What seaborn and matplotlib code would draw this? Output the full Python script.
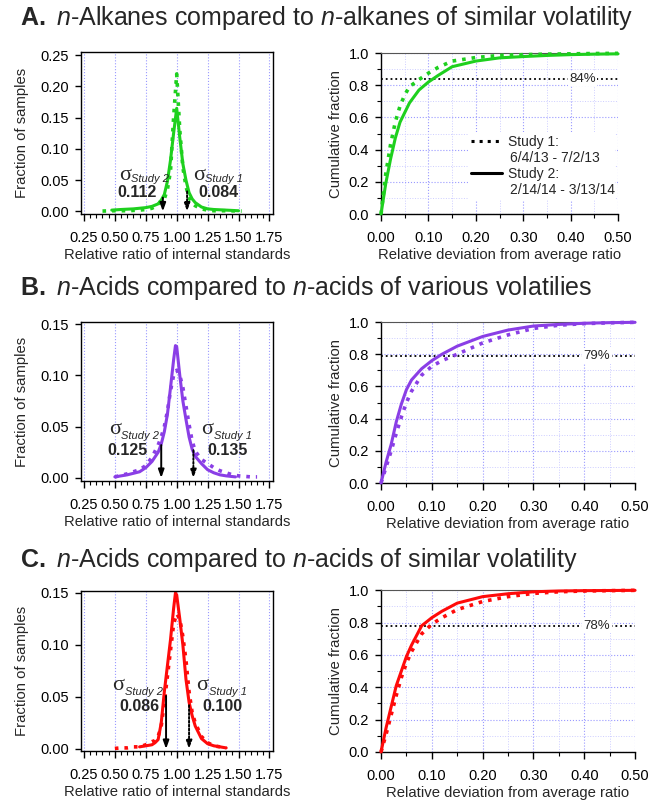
import matplotlib
matplotlib.use("Agg")
import matplotlib.pyplot as plt
from matplotlib.lines import Line2D
from matplotlib.ticker import MultipleLocator, FormatStrFormatter
import seaborn as sns

# ---- values ----
# left column: distribution of relative ratios (fraction of samples)
a_hist_x1 = [0.40, 0.50, 0.60, 0.70, 0.75, 0.80, 0.85, 0.875, 0.90, 0.925, 0.95, 0.975, 1.00, 1.025,
             1.05, 1.075, 1.10, 1.125, 1.15, 1.20, 1.25, 1.30, 1.40, 1.525]
a_hist_y1 = [0.0005, 0.001, 0.001, 0.002, 0.003, 0.005, 0.010, 0.018, 0.020, 0.035, 0.065, 0.150, 0.220,
             0.130, 0.070, 0.040, 0.022, 0.013, 0.009, 0.004, 0.002, 0.001, 0.001, 0.0005]
a_hist_x2 = [0.475, 0.55, 0.65, 0.75, 0.80, 0.85, 0.875, 0.90, 0.925, 0.95, 0.975, 1.00, 1.025, 1.05,
             1.075, 1.10, 1.125, 1.15, 1.20, 1.25, 1.30, 1.40, 1.50]
a_hist_y2 = [0.002, 0.003, 0.004, 0.006, 0.008, 0.012, 0.018, 0.027, 0.048, 0.082, 0.125, 0.165, 0.118,
             0.076, 0.050, 0.030, 0.020, 0.014, 0.007, 0.004, 0.003, 0.002, 0.001]

b_hist_x1 = [0.50, 0.60, 0.70, 0.75, 0.80, 0.85, 0.875, 0.90, 0.925, 0.95, 0.975, 1.00, 1.025, 1.05,
             1.075, 1.10, 1.125, 1.15, 1.20, 1.25, 1.30, 1.35, 1.40, 1.45, 1.50, 1.60, 1.65]
b_hist_y1 = [0.001, 0.004, 0.008, 0.012, 0.020, 0.032, 0.040, 0.050, 0.065, 0.085, 0.100, 0.105, 0.100,
             0.088, 0.070, 0.052, 0.036, 0.026, 0.018, 0.014, 0.010, 0.007, 0.005, 0.003, 0.002, 0.001, 0.001]
b_hist_x2 = [0.50, 0.60, 0.70, 0.75, 0.80, 0.85, 0.875, 0.90, 0.925, 0.95, 0.975, 0.99, 1.00, 1.025,
             1.05, 1.075, 1.10, 1.125, 1.15, 1.20, 1.25, 1.30, 1.35, 1.40, 1.475]
b_hist_y2 = [0.001, 0.003, 0.006, 0.010, 0.016, 0.025, 0.033, 0.045, 0.062, 0.088, 0.115, 0.129, 0.128,
             0.100, 0.075, 0.057, 0.040, 0.028, 0.021, 0.014, 0.008, 0.005, 0.003, 0.002, 0.001]

c_hist_x1 = [0.50, 0.55, 0.60, 0.65, 0.70, 0.75, 0.80, 0.825, 0.85, 0.875, 0.90, 0.925, 0.95, 0.975,
             1.00, 1.025, 1.05, 1.075, 1.10, 1.125, 1.15, 1.20, 1.25, 1.30, 1.35, 1.40]
c_hist_y1 = [0.0005, 0.001, 0.001, 0.002, 0.002, 0.004, 0.007, 0.008, 0.012, 0.022, 0.045, 0.070, 0.095,
             0.120, 0.130, 0.125, 0.108, 0.085, 0.055, 0.035, 0.025, 0.012, 0.006, 0.003, 0.002, 0.001]
c_hist_x2 = [0.70, 0.75, 0.80, 0.825, 0.85, 0.875, 0.90, 0.925, 0.95, 0.975, 0.99, 1.00, 1.025, 1.05,
             1.075, 1.10, 1.125, 1.15, 1.20, 1.25, 1.30, 1.35, 1.40]
c_hist_y2 = [0.002, 0.003, 0.004, 0.006, 0.009, 0.025, 0.055, 0.080, 0.105, 0.135, 0.150, 0.148, 0.125,
             0.100, 0.067, 0.045, 0.032, 0.022, 0.010, 0.005, 0.003, 0.002, 0.001]

# sigma of each study (study 1, study 2) and height where the arrows start
a_sigma = [0.084, 0.112]
b_sigma = [0.135, 0.125]
c_sigma = [0.100, 0.086]
a_arrow_top = [0.032, 0.022]
b_arrow_top = [0.027, 0.032]
c_arrow_top = [0.042, 0.051]

# right column: cumulative fraction vs relative deviation
cdf_x = [0, 0.01, 0.02, 0.03, 0.04, 0.05, 0.06, 0.08, 0.10, 0.12, 0.15, 0.20, 0.25, 0.30, 0.35, 0.40, 0.45, 0.50]
a_cdf1 = [0, 0.25, 0.43, 0.57, 0.67, 0.74, 0.79, 0.835, 0.875, 0.91, 0.95, 0.972, 0.985, 0.99, 0.993, 0.995, 0.997, 0.998]
a_cdf2 = [0, 0.19, 0.34, 0.47, 0.57, 0.63, 0.69, 0.77, 0.82, 0.86, 0.915, 0.95, 0.97, 0.978, 0.985, 0.99, 0.993, 0.995]
b_cdf1 = [0, 0.10, 0.20, 0.31, 0.41, 0.50, 0.57, 0.67, 0.725, 0.76, 0.80, 0.87, 0.92, 0.96, 0.98, 0.99, 0.995, 0.998]
b_cdf2 = [0, 0.13, 0.24, 0.38, 0.49, 0.58, 0.64, 0.71, 0.76, 0.80, 0.85, 0.91, 0.95, 0.975, 0.985, 0.992, 0.996, 0.998]
c_cdf1 = [0, 0.11, 0.23, 0.35, 0.46, 0.55, 0.62, 0.73, 0.79, 0.83, 0.88, 0.93, 0.96, 0.98, 0.99, 0.995, 0.997, 0.999]
c_cdf2 = [0, 0.15, 0.28, 0.41, 0.50, 0.59, 0.66, 0.78, 0.83, 0.87, 0.92, 0.96, 0.978, 0.99, 0.995, 0.997, 0.998, 0.999]

# fraction within one sigma (horizontal reference line)
ref_frac = [0.84, 0.79, 0.78]

titles = [
    r"$\bf{A.}$ $\it{n}$-Alkanes compared to $\it{n}$-alkanes of similar volatility",
    r"$\bf{B.}$ $\it{n}$-Acids compared to $\it{n}$-acids of various volatilies",
    r"$\bf{C.}$ $\it{n}$-Acids compared to $\it{n}$-acids of similar volatility",
]
colors = ["#1ed01e", "#8a3ee6", "#ff0a0a"]
legend_labels = ["Study 1:", "6/4/13 - 7/2/13", "Study 2:", "2/14/14 - 3/13/14"]

sns.set_theme(context="paper", style="ticks")
plt.rcParams["font.family"] = ["Liberation Sans", "DejaVu Sans"]
plt.rcParams.update({
    "mathtext.fontset": "custom",
    "mathtext.rm": "Liberation Serif",
    "mathtext.it": "Liberation Sans:italic",
    "mathtext.bf": "Liberation Sans:bold",
    "axes.linewidth": 1.0,
    "axes.edgecolor": "black",
    "xtick.color": "black",
    "ytick.color": "black",
    "xtick.labelsize": 10.5,
    "ytick.labelsize": 10.5,
    "axes.labelsize": 10.7,
    "xtick.major.size": 5,
    "ytick.major.size": 4.5,
    "xtick.minor.size": 3,
    "ytick.minor.size": 3,
    "xtick.major.pad": 7,
    "xtick.minor.pad": 7,
    "ytick.major.pad": 4,
})

hist_rows = [
    (a_hist_x1, a_hist_y1, a_hist_x2, a_hist_y2, a_sigma, a_arrow_top),
    (b_hist_x1, b_hist_y1, b_hist_x2, b_hist_y2, b_sigma, b_arrow_top),
    (c_hist_x1, c_hist_y1, c_hist_x2, c_hist_y2, c_sigma, c_arrow_top),
]
cdf_rows = [(a_cdf1, a_cdf2), (b_cdf1, b_cdf2), (c_cdf1, c_cdf2)]

# layout (figure fractions)
left_boxes = [[0.124, 0.733, 0.294, 0.202], [0.124, 0.3995, 0.294, 0.1985], [0.124, 0.0624, 0.294, 0.200]]
right_boxes = [[0.5844, 0.7328, 0.3635, 0.201], [0.5844, 0.397, 0.3896, 0.201], [0.5844, 0.0612, 0.3896, 0.202]]
hist_ylims = [(-0.004, 0.255), (-0.003, 0.152), (-0.002, 0.152)]
title_y = [1 - 18 / 801, 1 - 288 / 801, 1 - 560 / 801]
# sigma labels: x where the sigma glyph meets its subscript, y of sigma, y of subscript
# for study 2 (left) and study 1 (right); then the number centres
sig_pos = [
    [(0.629, 0.058, 0.052), (1.226, 0.058, 0.052)],
    [(0.548, 0.047, 0.041), (1.298, 0.047, 0.041)],
    [(0.573, 0.061, 0.055), (1.258, 0.061, 0.055)],
]
num_pos = [
    [(0.68, 0.031), (1.34, 0.031)],
    [(0.60, 0.027), (1.41, 0.027)],
    [(0.70, 0.041), (1.37, 0.041)],
]

fig = plt.figure(figsize=(6.52, 8.01), dpi=100)

for i in range(3):
    col = colors[i]
    fig.text(0.031, title_y[i], titles[i], fontsize=18, va="center", ha="left")

    # ----- left: distribution -----
    x1, y1, x2, y2, sig, tops = hist_rows[i]
    ax = fig.add_axes(left_boxes[i])
    ax.set_axisbelow(True)
    sns.lineplot(x=x1, y=y1, ax=ax, color=col, lw=2.6, ls=":")
    sns.lineplot(x=x2, y=y2, ax=ax, color=col, lw=2.2)
    ax.set_xlim(0.225, 1.775)
    ax.set_ylim(*hist_ylims[i])
    ax.xaxis.set_major_locator(MultipleLocator(0.25))
    ax.xaxis.set_minor_locator(MultipleLocator(0.05))
    ax.yaxis.set_major_locator(MultipleLocator(0.05))
    ax.xaxis.set_major_formatter(FormatStrFormatter("%.2f"))
    ax.yaxis.set_major_formatter(FormatStrFormatter("%.2f"))
    ax.grid(axis="x", which="major", color="#9a9aff", ls=":", lw=0.8)
    ax.set_xlabel("Relative ratio of internal standards", labelpad=2.5)
    ax.set_ylabel("Fraction of samples", labelpad=8)

    # arrows at 1 - sigma2 (solid) and 1 + sigma1 (dotted)
    ax.annotate("", xy=(1 - sig[1], 0), xytext=(1 - sig[1], tops[1]),
                arrowprops=dict(arrowstyle="-|>,head_width=0.18,head_length=0.5", color="black",
                                lw=1.4, shrinkA=0, shrinkB=0))
    ax.annotate("", xy=(1 + sig[0], 0), xytext=(1 + sig[0], tops[0]),
                arrowprops=dict(arrowstyle="-|>,head_width=0.18,head_length=0.5", color="black",
                                lw=1.4, ls=(0, (1, 1)), shrinkA=0, shrinkB=0))
    for (sx, sy, suby), sub, (nx, ny), val in zip(sig_pos[i], ["Study 2", "Study 1"],
                                                  num_pos[i], [sig[1], sig[0]]):
        ax.text(sx, sy, "\u03c3", fontsize=16, family="Liberation Serif", ha="right", va="center")
        ax.text(sx + 0.005, suby, sub, fontsize=8, style="italic", ha="left", va="center")
        ax.text(nx, ny, f"{val:.3f}", fontsize=11.5, family="Liberation Sans", fontweight="bold",
                ha="center", va="center")

    # ----- right: cumulative -----
    c1, c2 = cdf_rows[i]
    ax = fig.add_axes(right_boxes[i])
    ax.set_axisbelow(True)
    sns.lineplot(x=cdf_x, y=c1, ax=ax, color=col, lw=2.6, ls=":", clip_on=False, zorder=3)
    sns.lineplot(x=cdf_x, y=c2, ax=ax, color=col, lw=2.2, clip_on=False, zorder=3)
    ax.set_xlim(0, 0.5)
    ax.set_ylim(0, 1)
    ax.xaxis.set_major_locator(MultipleLocator(0.1))
    ax.xaxis.set_minor_locator(MultipleLocator(0.05))
    ax.yaxis.set_major_locator(MultipleLocator(0.2))
    ax.yaxis.set_minor_locator(MultipleLocator(0.1))
    ax.xaxis.set_major_formatter(FormatStrFormatter("%.2f"))
    ax.yaxis.set_major_formatter(FormatStrFormatter("%.1f"))
    ax.grid(which="major", color="#9a9aff", ls=":", lw=0.8)
    ax.grid(which="minor", color="#cdcdff", ls=":", lw=0.7)
    ax.spines["right"].set_visible(False)
    ax.spines["top"].set_color("#555555")
    ax.spines["top"].set_linewidth(0.8)
    ax.axhline(ref_frac[i], color="black", ls=":", lw=1.3, zorder=2)
    ax.text(0.425, ref_frac[i], f"{round(ref_frac[i] * 100)}%", fontsize=9.5, ha="center", va="center",
            bbox=dict(fc="white", ec="none", pad=1.0), zorder=2.5)
    ax.set_xlabel("Relative deviation from average ratio", labelpad=2.5)
    ax.set_ylabel("Cumulative fraction", labelpad=4)

    if i == 0:
        blank = Line2D([], [], color="none")
        handles = [Line2D([], [], color="black", lw=2.2, ls=":"), blank,
                   Line2D([], [], color="black", lw=2.2, ls="-"), blank]
        leg = ax.legend(handles, legend_labels, loc="upper left", bbox_to_anchor=(0.37, 0.51),
                        frameon=True, fontsize=10, handlelength=2.2, handletextpad=0.4,
                        borderaxespad=0, borderpad=0.2, labelspacing=0.15, fancybox=False)
        leg.get_frame().set_edgecolor("none")
        leg.get_frame().set_facecolor("white")
        leg.get_frame().set_alpha(1)
        # second line of each entry is indented a little
        for t in leg.get_texts()[1::2]:
            t.set_x(2)

fig.savefig("out.png", dpi=100)
